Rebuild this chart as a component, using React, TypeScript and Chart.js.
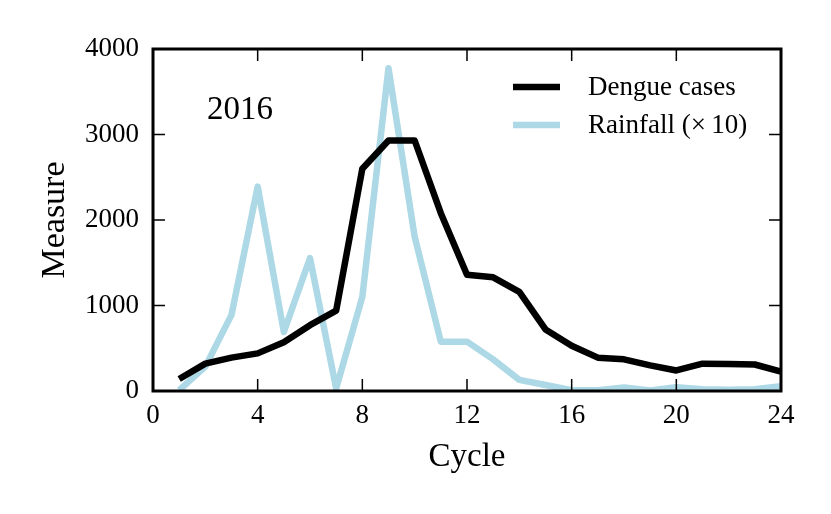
import { useEffect, useRef } from "react"
import { Chart, registerables, type ChartConfiguration, type Plugin } from "chart.js"

Chart.register(...registerables)

// Cycle numbers on the x axis
const cycles = [1, 2, 3, 4, 5, 6, 7, 8, 9, 10, 11, 12, 13, 14, 15, 16, 17, 18, 19, 20, 21, 22, 23, 24]

// Dengue cases per cycle
const dengueCases = [
  140, 320, 390, 440, 570, 770, 940, 2600, 2930, 2930, 2080, 1360,
  1330, 1160, 720, 530, 390, 370, 300, 240, 320, 315, 310, 226,
]

// Rainfall per cycle, already multiplied by 10
const rainfall = [
  10, 285, 890, 2390, 690, 1555, 30, 1100, 3775, 1805, 577, 577,
  370, 130, 70, 10, 10, 40, 5, 45, 20, 15, 20, 55,
]

const xTicks = [0, 4, 8, 12, 16, 20, 24]
const yTicks = [0, 1000, 2000, 3000, 4000]

const seriesLabels = ["Dengue cases", "Rainfall (\u00d7\u200910)"]
const seriesColors = ["#000000", "#add8e6"]

const yearLabel = "2016"
const yearPos = { x: 2.06, y: 3180 }

const serif = "'Liberation Serif', 'Times New Roman', serif"

// Frame, inward ticks on all four sides, legend and the year text
const framePlugin: Plugin<"line"> = {
  id: "frame",
  afterDatasetsDraw(chart) {
    const { ctx, chartArea } = chart
    const { left, right, top, bottom } = chartArea
    const xs = chart.scales.x
    const ys = chart.scales.y
    const tickLen = 12

    ctx.save()
    ctx.strokeStyle = "#000"
    ctx.lineWidth = 1.5
    ctx.beginPath()
    xTicks.forEach((v) => {
      const px = xs.getPixelForValue(v)
      ctx.moveTo(px, bottom)
      ctx.lineTo(px, bottom - tickLen)
      ctx.moveTo(px, top)
      ctx.lineTo(px, top + tickLen)
    })
    yTicks.forEach((v) => {
      const py = ys.getPixelForValue(v)
      ctx.moveTo(left, py)
      ctx.lineTo(left + tickLen, py)
      ctx.moveTo(right, py)
      ctx.lineTo(right - tickLen, py)
    })
    ctx.stroke()

    ctx.lineWidth = 3
    ctx.strokeRect(left, top, right - left, bottom - top)

    // year annotation
    ctx.fillStyle = "#000"
    ctx.font = `33px ${serif}`
    ctx.textAlign = "left"
    ctx.textBaseline = "alphabetic"
    ctx.fillText(yearLabel, xs.getPixelForValue(yearPos.x), ys.getPixelForValue(yearPos.y))

    // legend
    ctx.font = `27px ${serif}`
    ctx.textBaseline = "middle"
    chart.data.datasets.forEach((ds, i) => {
      const y = top + 38 + i * 38
      ctx.strokeStyle = ds.borderColor as string
      ctx.lineWidth = 6.5
      ctx.beginPath()
      ctx.moveTo(513, y)
      ctx.lineTo(560, y)
      ctx.stroke()
      ctx.fillStyle = "#000"
      ctx.fillText(ds.label ?? "", 588, y + 1)
    })
    ctx.restore()
  },
}

export default function App() {
  const canvasRef = useRef<HTMLCanvasElement>(null)
  const chartRef = useRef<Chart<"line"> | null>(null)

  useEffect(() => {
    if (!canvasRef.current) return
    if (chartRef.current) chartRef.current.destroy()

    const config: ChartConfiguration<"line"> = {
      type: "line",
      data: {
        datasets: [
          {
            label: seriesLabels[0],
            data: cycles.map((c, i) => ({ x: c, y: dengueCases[i] })),
            borderColor: seriesColors[0],
            borderWidth: 6.5,
            borderJoinStyle: "round",
            pointRadius: 0,
            tension: 0,
          },
          {
            label: seriesLabels[1],
            data: cycles.map((c, i) => ({ x: c, y: rainfall[i] })),
            borderColor: seriesColors[1],
            borderWidth: 6.5,
            borderJoinStyle: "round",
            pointRadius: 0,
            tension: 0,
          },
        ],
      },
      options: {
        responsive: true,
        maintainAspectRatio: false,
        animation: false,
        layout: { padding: { left: 0, right: 50, top: 49, bottom: 0 } },
        plugins: {
          legend: { display: false },
          tooltip: { enabled: false },
        },
        scales: {
          x: {
            type: "linear",
            min: 0,
            max: 24,
            grid: { display: false, drawTicks: false },
            border: { display: false },
            ticks: {
              stepSize: 4,
              padding: 9,
              color: "#000",
              font: { family: serif, size: 27 },
              maxRotation: 0,
            },
            title: {
              display: true,
              text: "Cycle",
              color: "#000",
              font: { family: serif, size: 33 },
              padding: { top: 0, bottom: 37 },
            },
            afterFit: (scale) => {
              scale.height = 123
            },
          },
          y: {
            min: 0,
            max: 4000,
            grid: { display: false, drawTicks: false },
            border: { display: false },
            ticks: {
              stepSize: 1000,
              padding: 14,
              color: "#000",
              font: { family: serif, size: 27 },
              callback: (v) => String(v),
            },
            title: {
              display: true,
              text: "Measure",
              color: "#000",
              font: { family: serif, size: 34 },
              padding: { top: 35, bottom: 0 },
            },
            afterFit: (scale) => {
              scale.width = 153
            },
          },
        },
      },
      plugins: [framePlugin],
    }

    chartRef.current = new Chart(canvasRef.current, config)

    return () => {
      if (chartRef.current) {
        chartRef.current.destroy()
        chartRef.current = null
      }
    }
  }, [])

  return (
    <div style={{ position: "absolute", left: 0, top: 0, width: 831, height: 514, background: "#fff" }}>
      <canvas ref={canvasRef} />
    </div>
  )
}
